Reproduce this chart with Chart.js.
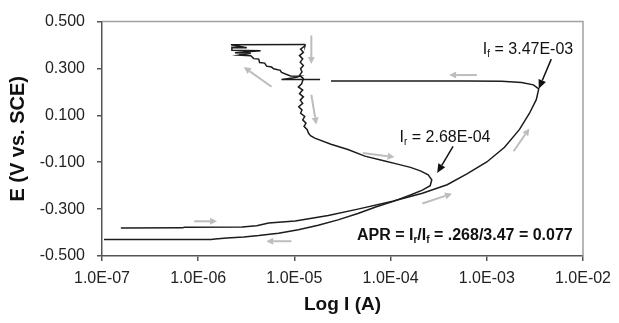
<!DOCTYPE html>
<html>
<head>
<meta charset="utf-8">
<script src="https://cdn.jsdelivr.net/npm/chart.js"></script>
<style>
  html, body { margin: 0; padding: 0; background: #fff; }
  #wrap { width: 619px; height: 323px; }
</style>
</head>
<body>
<div id="wrap"><canvas id="cpChart" width="619" height="323"></canvas></div>
<script>
// cyclic polarization scan: current (A) against potential (V vs. SCE)
// forward scan, from the cathodic start up to the vertex; null marks a break in the trace
const forwardI = [1.57e-7, 6.84e-7, 7.2e-7, 2.85e-6, 4.06e-6, 5.4e-6, 1.02e-5, 2.25e-5, 4.57e-5, 1.05e-4,
  2.14e-4, 3.87e-4, 6.22e-4, 1.0e-3, 1.53e-3, 2.19e-3, 2.77e-3, 3.27e-3, 3.47e-3, 3.05e-3,
  2.3e-3, 1.43e-3, 6.2e-4, 1.18e-4, 2.4e-5, null, 1.85e-5, 7.35e-6, 1.05e-5, 1.15e-5,
  9.1e-6, 7.35e-6, 7.13e-6, 6.08e-6, 5.79e-6, 5.14e-6, 4.91e-6, 4.35e-6, 4.26e-6, 3.78e-6,
  3.52e-6, 2.65e-6, 3.52e-6, 2.41e-6, 4.46e-6, 2.24e-6, 2.24e-6, 3.20e-6, 2.19e-6, 1.30e-5];
const forwardE = [-0.381, -0.380, -0.377, -0.376, -0.371, -0.359, -0.351, -0.327, -0.300, -0.266,
  -0.232, -0.196, -0.150, -0.099, -0.036, 0.040, 0.108, 0.167, 0.213, 0.230,
  0.2405, 0.245, 0.247, 0.247, 0.247, null, 0.253, 0.253, 0.262, 0.267,
  0.268, 0.283, 0.292, 0.299, 0.306, 0.310, 0.323, 0.325, 0.340, 0.342,
  0.354, 0.357, 0.365, 0.367, 0.3755, 0.378, 0.390, 0.388, 0.401, 0.402];

// reverse scan, from the vertex back down past the repassivation nose
const reverseI = [1.30e-5, 1.29e-5, 1.16e-5, 1.24e-5, 1.13e-5, 1.22e-5, 1.15e-5, 1.24e-5, 1.16e-5, 1.20e-5,
  1.13e-5, 1.24e-5, 1.19e-5, 1.10e-5, 1.22e-5, 1.13e-5, 1.24e-5, 1.15e-5, 1.22e-5, 1.11e-5,
  1.20e-5, 1.16e-5, 1.28e-5, 1.22e-5, 1.32e-5, 1.26e-5, 1.36e-5, 1.40e-5, 1.47e-5, 1.63e-5,
  2.40e-5, 3.60e-5, 5.40e-5, 8.28e-5, 1.18e-4, 1.61e-4, 2.04e-4, 2.46e-4, 2.68e-4, 2.58e-4,
  2.14e-4, 1.61e-4, 1.05e-4, 7.0e-5, 4.57e-5, 2.84e-5, 1.77e-5, 1.10e-5, 6.84e-6, 4.26e-6,
  2.98e-6, 1.99e-6, 1.50e-6, 1.36e-6, 1.05e-7];
const reverseE = [0.402, 0.397, 0.383, 0.369, 0.355, 0.341, 0.327, 0.313, 0.299, 0.285,
  0.271, 0.257, 0.235, 0.2215, 0.208, 0.193, 0.179, 0.165, 0.151, 0.137,
  0.123, 0.109, 0.095, 0.081, 0.067, 0.053, 0.039, 0.0245, 0.0135, 0.003,
  -0.023, -0.046, -0.074, -0.093, -0.108, -0.122, -0.137, -0.154, -0.175, -0.200,
  -0.219, -0.240, -0.268, -0.291, -0.319, -0.346, -0.369, -0.388, -0.403, -0.413,
  -0.419, -0.423, -0.427, -0.4295, -0.430];

const xTicks = [1e-7, 1e-6, 1e-5, 1e-4, 1e-3, 1e-2];
const yTicks = [-0.5, -0.3, -0.1, 0.1, 0.3, 0.5];

// forward (If) and reverse (Ir) currents at the marked points
const currentF = 3.47e-3, potentialF = 0.213;
const currentR = 2.68e-4, potentialR = -0.175;

const FONT = '"Liberation Sans", Arial, Helvetica, sans-serif';

function toPoints(xs, ys) {
  return xs.map((v, i) => ({ x: v, y: ys[i] }));
}

function sciLabel(v) {
  const e = Math.round(Math.log10(v));
  return '1.0E' + (e < 0 ? '-' : '+') + String(Math.abs(e)).padStart(2, '0');
}

// text labels, anchored at their left edge in data units
const notes = [
  { parts: [['I'], ['f', 1], [' = ' + currentF.toExponential(2).toUpperCase().replace('E-', 'E-0')]], I: 9.1e-4, E: 0.382, bold: false },
  { parts: [['I'], ['r', 1], [' = ' + currentR.toExponential(2).toUpperCase().replace('E-', 'E-0')]], I: 1.24e-4, E: 0.006, bold: false },
  { parts: [['APR = I'], ['r', 1], ['/I'], ['f', 1], [' = .268/3.47 = 0.077']], I: 4.47e-5, E: -0.411, bold: true }
];

// black pointers from the labels to the two currents
const pointers = [
  { from: [4.68e-3, 0.340], to: [currentF, potentialF] },
  { from: [4.46e-4, -0.032], to: [3.05e-4, -0.146] }
];

// grey arrows showing scan direction
const scanArrows = [
  { from: [9.1e-7, -0.352], to: [1.57e-6, -0.352] },
  { from: [9.3e-6, -0.437], to: [5.1e-6, -0.437] },
  { from: [5.14e-5, -0.061], to: [1.10e-4, -0.078] },
  { from: [2.14e-4, -0.276], to: [4.35e-4, -0.234] },
  { from: [1.90e-3, -0.053], to: [2.77e-3, 0.044] },
  { from: [7.88e-4, 0.272], to: [4.06e-4, 0.272] },
  { from: [1.50e-5, 0.441], to: [1.50e-5, 0.319] },
  { from: [1.50e-5, 0.188], to: [1.69e-5, 0.061] },
  { from: [5.79e-6, 0.222], to: [2.98e-6, 0.306] }
];

function arrow(ctx, x1, y1, x2, y2, color, width, headLen, headHalf) {
  const ang = Math.atan2(y2 - y1, x2 - x1);
  const bx = x2 - headLen * Math.cos(ang), by = y2 - headLen * Math.sin(ang);
  ctx.strokeStyle = color;
  ctx.fillStyle = color;
  ctx.lineWidth = width;
  ctx.beginPath();
  ctx.moveTo(x1, y1);
  ctx.lineTo(bx, by);
  ctx.stroke();
  ctx.beginPath();
  ctx.moveTo(x2, y2);
  ctx.lineTo(bx + headHalf * Math.sin(ang), by - headHalf * Math.cos(ang));
  ctx.lineTo(bx - headHalf * Math.sin(ang), by + headHalf * Math.cos(ang));
  ctx.closePath();
  ctx.fill();
}

const plotFrame = {
  id: 'plotFrame',
  beforeDatasetsDraw(chart) {
    const { ctx, chartArea: a } = chart;
    ctx.save();
    ctx.strokeStyle = '#a0a0a0';
    ctx.lineWidth = 1.5;
    ctx.beginPath();
    ctx.moveTo(a.left, a.top);
    ctx.lineTo(a.right, a.top);
    ctx.lineTo(a.right, a.bottom);
    ctx.stroke();
    ctx.restore();
  }
};

const annotations = {
  id: 'annotations',
  afterDatasetsDraw(chart) {
    const { ctx, scales: { x, y } } = chart;
    const px = p => [x.getPixelForValue(p[0]), y.getPixelForValue(p[1])];
    ctx.save();
    scanArrows.forEach(a => {
      const [x1, y1] = px(a.from), [x2, y2] = px(a.to);
      arrow(ctx, x1, y1, x2, y2, '#bdbdbd', 2, 7, 3.5);
    });
    pointers.forEach(a => {
      const [x1, y1] = px(a.from), [x2, y2] = px(a.to);
      arrow(ctx, x1, y1, x2, y2, '#111', 1.5, 9, 4);
    });
    ctx.fillStyle = '#111';
    ctx.textBaseline = 'middle';
    notes.forEach(n => {
      let [cx, cy] = px([n.I, n.E]);
      const w = n.bold ? 'bold ' : '';
      n.parts.forEach(([txt, sub]) => {
        ctx.font = w + (sub ? '10px ' : '16px ') + FONT;
        ctx.fillText(txt, cx, sub ? cy + 5 : cy);
        cx += ctx.measureText(txt).width;
      });
    });
    ctx.restore();
  }
};

const axisColor = '#555';

new Chart(document.getElementById('cpChart'), {
  type: 'scatter',
  data: {
    datasets: [
      { label: 'Forward', data: toPoints(forwardI, forwardE) },
      { label: 'Reverse', data: toPoints(reverseI, reverseE) }
    ]
  },
  options: {
    responsive: false,
    animation: false,
    showLine: true,
    spanGaps: false,
    elements: {
      line: { borderColor: '#1c1c1c', borderWidth: 1.5, tension: 0 },
      point: { radius: 0 }
    },
    layout: { padding: { top: 19, right: 32, bottom: 0, left: 0 } },
    plugins: { legend: { display: false }, tooltip: { enabled: false } },
    scales: {
      x: {
        type: 'logarithmic',
        min: 1e-7,
        max: 1e-2,
        afterBuildTicks: s => { s.ticks = xTicks.map(v => ({ value: v })); },
        afterFit: s => { s.height = 67; },
        ticks: {
          autoSkip: false, maxRotation: 0, padding: 8,
          color: '#222', font: { family: FONT, size: 16 },
          callback: v => sciLabel(v)
        },
        grid: { drawOnChartArea: false, tickLength: 5, color: axisColor, lineWidth: 1.5 },
        border: { color: axisColor, width: 1.5 },
        title: {
          display: true, text: 'Log I (A)', color: '#111',
          font: { family: FONT, size: 19, weight: 'bold' }, padding: { bottom: 7 }
        }
      },
      y: {
        min: -0.5,
        max: 0.5,
        afterBuildTicks: s => { s.ticks = yTicks.map(v => ({ value: v })); },
        afterFit: s => { s.width = 102; },
        ticks: {
          padding: 12, color: '#222', font: { family: FONT, size: 16 },
          callback: v => v.toFixed(3)
        },
        grid: { drawOnChartArea: false, tickLength: 5, color: axisColor, lineWidth: 1.5 },
        border: { color: axisColor, width: 1.5 },
        title: {
          display: true, text: 'E (V vs. SCE)', color: '#111',
          font: { family: FONT, size: 20, weight: 'bold' }, padding: { top: 6 }
        }
      }
    }
  },
  plugins: [plotFrame, annotations]
});
</script>
</body>
</html>
